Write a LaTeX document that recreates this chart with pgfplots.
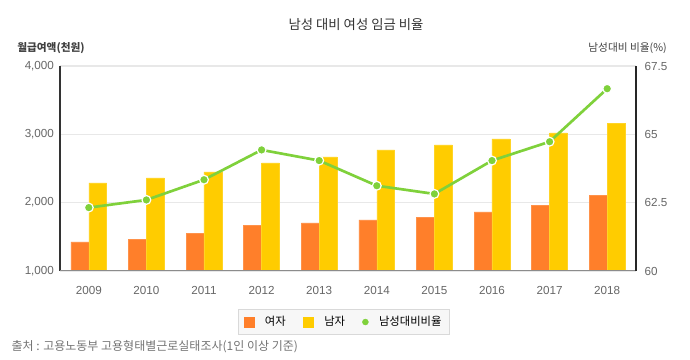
\documentclass[border=0pt]{standalone}
\usepackage{fontspec}
\setmainfont{Liberation Sans}
\newfontfamily\kr{Noto Sans CJK KR}
\usepackage{pgfplots}
\pgfplotsset{compat=1.18}
\definecolor{fem}{HTML}{FF7F2A}
\definecolor{mal}{HTML}{FFCC00}
\definecolor{lin}{HTML}{7FD13B}
\definecolor{tk}{HTML}{666666}
\definecolor{gridc}{HTML}{E8E8E8}
\begin{document}
\begin{tikzpicture}
\useasboundingbox (0,0) rectangle (517.5pt,270pt);
% title and labels
\node[font=\kr\fontsize{10}{12}\selectfont, text=black!80] at (267pt,251.25pt) {남성 대비 여성 임금 비율};
\node[font=\kr\fontsize{8}{10}\selectfont\bfseries, text=black!75, anchor=west, inner sep=0pt] at (12.75pt,234pt) {월급여액(천원)};
\node[font=\kr\fontsize{8}{10}\selectfont, text=black!75, anchor=east, inner sep=0pt] at (500.25pt,234pt) {남성대비 비율(\%)};
\node[font=\kr\fontsize{9}{11}\selectfont, text=black!55, anchor=west, inner sep=0pt] at (8.5pt,9.75pt) {출처 : 고용노동부 고용형태별근로실태조사(1인 이상 기준)};
\begin{axis}[
  at={(45pt,66.75pt)}, anchor=south west,
  scale only axis, width=432pt, height=153.75pt,
  xmin=-0.5, xmax=9.5, ymin=1000, ymax=4000,
  axis x line*=bottom, axis y line*=left,
  axis line style={black!80, line width=0.8pt},
  x axis line style={draw=none},
  xtick={0,...,9},
  xticklabels={2009,2010,2011,2012,2013,2014,2015,2016,2017,2018},
  ytick={1000,2000,3000,4000},
  ymajorgrids, grid style={gridc, line width=0.8pt},
  major tick length=0pt,
  tick label style={font=\fontsize{8.75}{10}\selectfont, text=tk},
  xticklabel style={yshift=-8pt},
  yticklabel style={xshift=-1pt},
  /pgf/number format/assume math mode=true,
  /pgf/number format/.cd, 1000 sep={,}, /pgfplots/.cd,
  legend style={at={(0.493,-0.249)}, anchor=center, draw=black!15, fill=black!3,
    font=\kr\fontsize{8.5}{10}\selectfont, inner xsep=4pt, inner ysep=3pt,
    /tikz/every odd column/.append style={column sep=6pt},
    /tikz/every even column/.append style={column sep=11pt}},
  legend columns=3,
  legend cell align=left,
]
\addplot[ybar, bar width=0.31, bar shift=-0.155, fill=fem, draw=fem!85!white,
  area legend, legend image code/.code={\fill[fem] (0pt,-3.75pt) rectangle (7.5pt,3.75pt);}]
  coordinates {(0,1425) (1,1468) (2,1546) (3,1663) (4,1703) (5,1747) (6,1780) (7,1864) (8,1956) (9,2102)};
\addlegendentry{여자}
\addplot[ybar, bar width=0.31, bar shift=0.155, fill=mal, draw=mal!85!white,
  area legend, legend image code/.code={\fill[mal] (0pt,-3.75pt) rectangle (7.5pt,3.75pt);}]
  coordinates {(0,2288) (1,2362) (2,2449) (3,2581) (4,2669) (5,2771) (6,2845) (7,2932) (8,3020) (9,3157)};
\addlegendentry{남자}
\addlegendimage{only marks, mark=*, mark size=2.2pt, color=lin}
\addlegendentry{남성대비비율}
\draw[black!45, line width=1.2pt] (rel axis cs:0,0) -- (rel axis cs:1,0);
\end{axis}
\begin{axis}[
  at={(45pt,66.75pt)}, anchor=south west,
  scale only axis, width=432pt, height=153.75pt,
  xmin=-0.5, xmax=9.5, ymin=60, ymax=67.5,
  axis x line=none, axis y line*=right,
  axis line style={black!85, line width=0.8pt},
  ytick={60,62.5,65,67.5},
  yticklabels={60,62.5,65,67.5},
  major tick length=0pt,
  tick label style={font=\fontsize{8.75}{10}\selectfont, text=tk},
  yticklabel style={xshift=3pt},
  /pgf/number format/assume math mode=true,
  clip=false,
]
\addplot[lin, line width=2pt, mark=*, mark size=3.3pt,
  mark options={fill=lin, draw=white, line width=0.9pt}]
  coordinates {(0,62.32) (1,62.6) (2,63.34) (3,64.43) (4,64.04) (5,63.12) (6,62.82) (7,64.04) (8,64.73) (9,66.67)};
\end{axis}
\end{tikzpicture}
\end{document}
